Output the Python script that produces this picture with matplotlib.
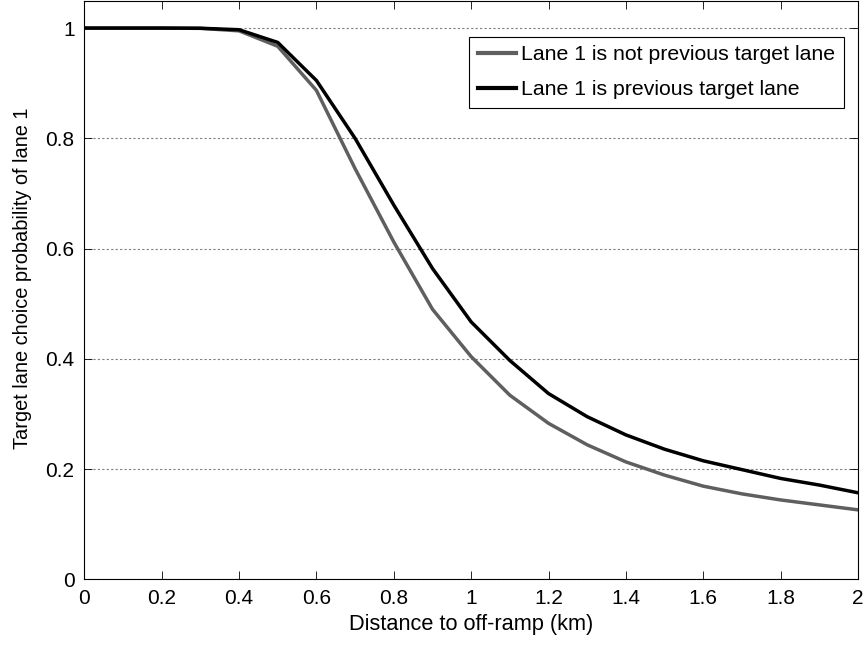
import matplotlib
matplotlib.use("Agg")
import matplotlib.pyplot as plt

# distance to off-ramp (km)
distance = [0.0, 0.1, 0.2, 0.3, 0.4, 0.5, 0.6, 0.7, 0.8, 0.9, 1.0,
            1.1, 1.2, 1.3, 1.4, 1.5, 1.6, 1.7, 1.8, 1.9, 2.0]

# lane 1 is not previous target lane (gray)
prob_not_prev = [1.0, 1.0, 1.0, 0.9995, 0.995, 0.967, 0.887, 0.745, 0.612, 0.49, 0.404,
                 0.334, 0.283, 0.244, 0.213, 0.189, 0.169, 0.155, 0.144, 0.135, 0.126]

# lane 1 is previous target lane (black)
prob_prev = [1.0, 1.0, 1.0, 0.9997, 0.997, 0.974, 0.905, 0.80, 0.679, 0.564, 0.467,
             0.397, 0.337, 0.295, 0.262, 0.236, 0.215, 0.199, 0.183, 0.171, 0.157]

labels = ["Lane 1 is not previous target lane", "Lane 1 is previous target lane"]

plt.rcParams['font.family'] = ['Liberation Sans', 'DejaVu Sans']
plt.rcParams['font.size'] = 15

fig = plt.figure(figsize=(8.68, 6.47), dpi=100)
ax = fig.add_axes([0.0971, 0.1046, 0.8914, 0.8946])

ax.plot(distance, prob_not_prev, color='#5f5f5f', linewidth=2.5, label=labels[0])
ax.plot(distance, prob_prev, color='black', linewidth=2.5, label=labels[1])

ax.set_xlim(0, 2)
ax.set_ylim(0, 1.05)
ax.set_xticks([0, 0.2, 0.4, 0.6, 0.8, 1, 1.2, 1.4, 1.6, 1.8, 2])
ax.set_xticklabels(['0', '0.2', '0.4', '0.6', '0.8', '1', '1.2', '1.4', '1.6', '1.8', '2'])
ax.set_yticks([0, 0.2, 0.4, 0.6, 0.8, 1])
ax.set_yticklabels(['0', '0.2', '0.4', '0.6', '0.8', '1'])

ax.yaxis.grid(True, linestyle=(0, (2, 2)), color='#7f7f7f', linewidth=0.8)
ax.tick_params(direction='in', length=5.5, width=0.6, top=True, right=True, pad=7)
for s in ax.spines.values():
    s.set_linewidth(0.8)

ax.set_xlabel('Distance to off-ramp (km)', fontsize=15.7, labelpad=4)
ax.set_ylabel('Target lane choice probability of lane 1', fontsize=14.4)
ax.yaxis.set_label_coords(-0.068, 0.52)

leg = ax.legend(loc='upper right', bbox_to_anchor=(0.982, 0.937), borderaxespad=0,
                fancybox=False, framealpha=1, edgecolor='black', handlelength=1.8,
                handletextpad=0.25, borderpad=0.4, labelspacing=0.75, fontsize=15.3)
leg.get_frame().set_linewidth(0.8)
for h in leg.get_lines():
    h.set_linewidth(3)

fig.savefig('out.png', dpi=100)
